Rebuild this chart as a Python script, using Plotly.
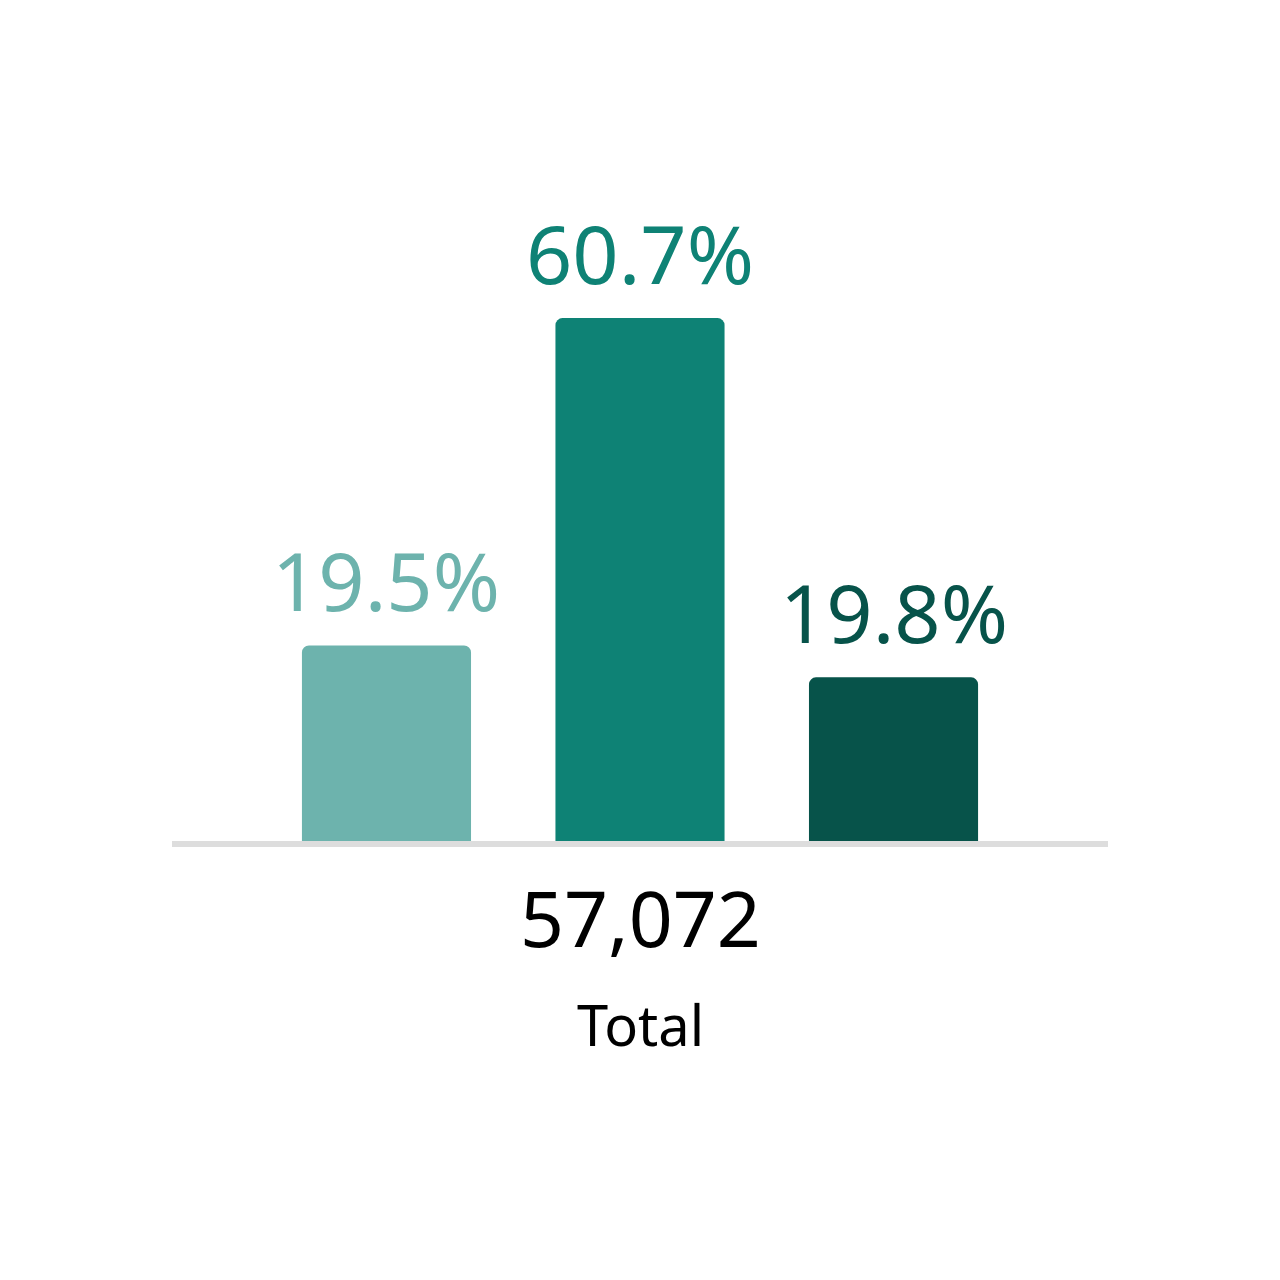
import plotly.graph_objects as go

categories = ["A", "B", "C"]
pct_labels = [19.5, 60.7, 19.8]
# bar heights as drawn in the picture (same units as the tallest bar's label)
bar_heights = [22.7, 60.7, 19.0]
colors = ["#6db3ad", "#0e8275", "#07534a"]
total_value = "57,072"
total_label = "Total"

FONT = "Noto Sans"

x_pos = list(range(len(categories)))

fig = go.Figure()
fig.add_trace(go.Bar(
    x=x_pos, y=bar_heights, width=0.667,
    marker=dict(color=colors, line=dict(width=0)),
    hoverinfo="skip",
))

for i, (h, p, c) in enumerate(zip(bar_heights, pct_labels, colors)):
    fig.add_annotation(
        x=i, y=h, xref="x", yref="y", text=f"{p:.1f}%",
        showarrow=False, yanchor="bottom", yshift=8,
        font=dict(family=FONT, size=81, color=c),
    )

fig.add_annotation(x=0.5, y=0, xref="paper", yref="paper", text=total_value,
                   showarrow=False, yanchor="top", yshift=-22,
                   font=dict(family=FONT, size=77, color="#000000"))
fig.add_annotation(x=0.5, y=0, xref="paper", yref="paper", text=total_label,
                   showarrow=False, yanchor="top", yshift=-143,
                   font=dict(family=FONT, size=56, color="#000000"))

fig.update_layout(
    width=1280, height=1280,
    margin=dict(l=164, r=180, t=143, b=447, pad=0),
    paper_bgcolor="white", plot_bgcolor="white",
    barcornerradius=7,
    showlegend=False,
    xaxis=dict(range=[-0.846, 2.846], showticklabels=False, showgrid=False,
               zeroline=False, showline=True, linecolor="#dddddd", linewidth=6,
               ticks=""),
    yaxis=dict(range=[0, 80.1], showticklabels=False, showgrid=False,
               zeroline=False, showline=False),
)

fig.write_html("out.html")
